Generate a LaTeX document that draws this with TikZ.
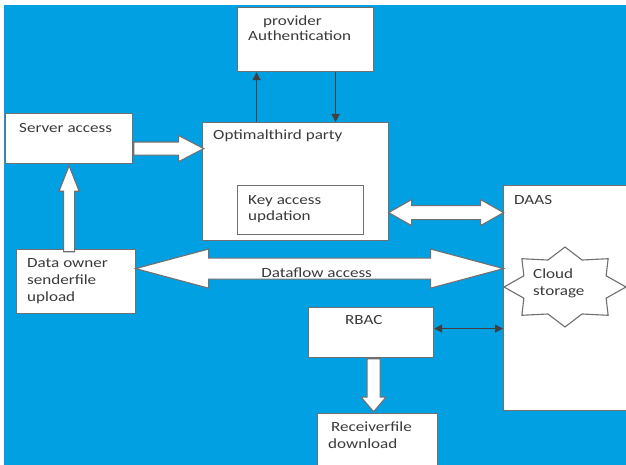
\documentclass[tikz,border=0pt]{standalone}
\usepackage{fontspec}
\setmainfont{Carlito}[FakeStretch=1.22]
\usepackage{tikz}
\usetikzlibrary{arrows.meta,positioning,shapes.arrows,calc}

\definecolor{bgblue}{RGB}{0,160,227}
\definecolor{edgegray}{RGB}{112,112,112}
\definecolor{txtgray}{RGB}{58,58,58}

\tikzset{
  box/.style={draw=edgegray,fill=white,line width=1.2pt,anchor=north west,inner sep=0pt},
  txt/.style={text=txtgray,align=left,inner sep=0pt,font=\fontsize{14}{17}\selectfont},
  arr/.style={draw=black!75,line width=1.2pt,-{Triangle[length=8pt,width=8pt]}},
  arrboth/.style={arr,{Triangle[length=8pt,width=8pt]}-{Triangle[length=8pt,width=8pt]}},
  blk/.style={single arrow,draw=edgegray,fill=white,line width=1.1pt,inner sep=6pt},
  dblk/.style={double arrow,draw=edgegray,fill=white,line width=1.1pt,inner sep=6pt}
}

\begin{document}
\begin{tikzpicture}[x=1pt,y=-1pt]

\useasboundingbox (0,0) rectangle (626,465);
\fill[bgblue] (4,5) rectangle (626,465);

% boxes
\node(prov)[box,minimum width=136pt,minimum height=64pt] at (237,7){};

\node(srv)[box,minimum width=127pt,minimum height=50pt] at (5,113){};

\node(opt)[box,minimum width=186pt,minimum height=118pt] at (202,122){};

\node(key)[box,minimum width=126pt,minimum height=49pt] at (237,185){};

\node(own)[box,minimum width=119pt,minimum height=64pt] at (16,249){};

\node(daas)[box,minimum width=126pt,minimum height=225pt] at (503,185){};

\node(rbac)[box,minimum width=125pt,minimum height=50pt] at (308,307){};

\node(recv)[box,minimum width=120pt,minimum height=56pt] at (317,413){};

% cloud storage
\coordinate(cc) at (565,287);
\draw[draw=edgegray,fill=white,line width=1.1pt]
  plot[samples at={0,...,15},variable=\k]
  ({565+61*(1-0.27*isodd(\k))*cos(22.5*\k)},{287-40*(1-0.27*isodd(\k))*sin(22.5*\k)}) -- cycle;

\node(cloud)[txt,anchor=north west] at (533,269){Cloud\\storage};

% labels
\node(provt)[txt,font=\fontsize{14}{14.5}\selectfont,below right=9pt and 11pt of prov.north west]{\hspace*{15pt}provider\\Authentication};

\node(srvt)[txt,below right=10pt and 14pt of srv.north west]{Server access};

\node(optt)[txt,below right=8pt and 11pt of opt.north west]{Optimalthird party};

\node(keyt)[txt,font=\fontsize{14}{16}\selectfont,below right=10pt and 11pt of key.north west]{Key access\\updation};

\node(ownt)[txt,below right=9pt and 11pt of own.north west]{Data owner\\senderfile\\upload};

\node(daast)[txt,below right=10pt and 11pt of daas.north west]{DAAS};

\node(rbact)[txt,below right=8pt and 37pt of rbac.north west]{RBAC};

\node(recvt)[txt,below right=9pt and 11pt of recv.north west]{\hspace*{3pt}Receiverfile\\download};

% block arrows
\node(a1)[blk,minimum height=70pt,single arrow head extend=6.5pt,single arrow tip angle=55,anchor=tail] at ([yshift=-10pt]srv.east){};

\node(a2)[blk,inner sep=5pt,minimum height=86pt,single arrow head extend=4.5pt,single arrow tip angle=43,shape border rotate=90,anchor=tip] at (srv.south){};

\node(a3)[dblk,inner sep=6.5pt,minimum height=115pt,double arrow head extend=6pt,double arrow tip angle=59] at ($(opt.east)!0.5!(daas.west |- opt.east)+(0,31)$){};

\node(flow)[dblk,inner sep=10pt,minimum height=368pt,double arrow head extend=9pt,double arrow tip angle=30] at ($(own.east)!0.5!(daas.west |- own.east)+(0,-13)$){};

\node(flowt)[txt,xshift=-3pt,yshift=-4pt] at (flow.center){Dataflow access};

\node(a4)[blk,minimum height=53pt,single arrow head extend=6pt,single arrow tip angle=81,shape border rotate=270,anchor=tail] at ([xshift=2.5pt]rbac.south){};

% thin arrows
\draw[arr] ([xshift=-39pt]opt.north) -- ([xshift=-39pt]opt.north |- prov.south);
\draw[arr] ([xshift=30pt]prov.south) -- ([xshift=30pt]prov.south |- opt.north);
\draw[arrboth] ([yshift=4pt]rbac.east) -- ([yshift=4pt]rbac.east -| daas.west);

\end{tikzpicture}
\end{document}
